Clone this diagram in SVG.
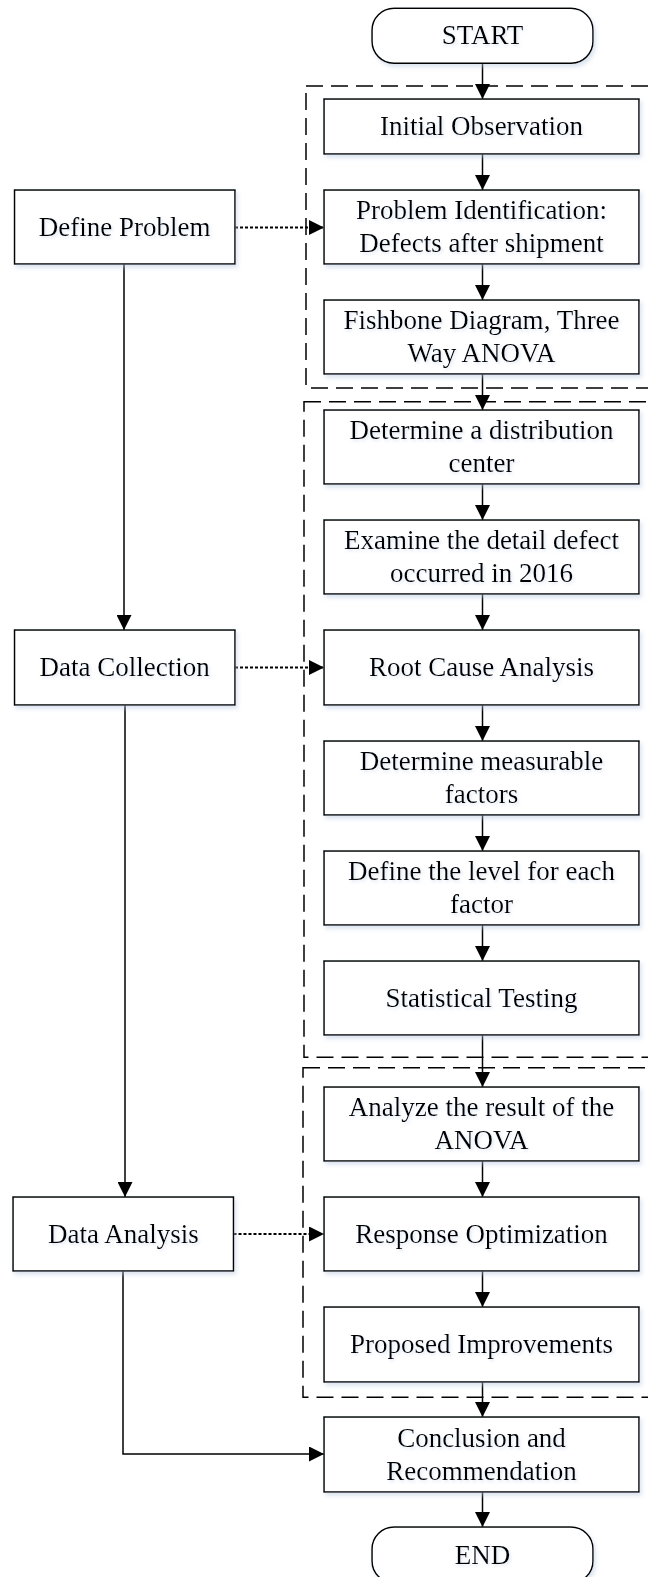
<svg xmlns="http://www.w3.org/2000/svg" width="648" height="1577" viewBox="0 0 648 1577">
<style>
.box{fill:#fff;stroke:#000;stroke-width:1.5;filter:url(#sh)}
.t{font-family:"Liberation Serif","Times New Roman",serif;font-size:27px;fill:#000;text-anchor:middle;filter:url(#tsh)}
.ln{fill:none;stroke:#000;stroke-width:1.5}
.dot{fill:none;stroke:#000;stroke-width:2;stroke-dasharray:3 2}
.grp{fill:none;stroke:#000;stroke-width:1.5;stroke-dasharray:17 8}
</style>
<defs>
<filter id="sh" x="-10%" y="-10%" width="130%" height="140%">
<feDropShadow dx="2" dy="3" stdDeviation="2" flood-color="#b8c8e0" flood-opacity="0.5"/>
</filter>
<filter id="tsh" x="-10%" y="-20%" width="130%" height="160%">
<feDropShadow dx="1.5" dy="2" stdDeviation="1.5" flood-color="#c0d0ea" flood-opacity="0.5"/>
</filter>
<marker id="ah" viewBox="0 0 15 15" refX="15" refY="7.5" markerWidth="15" markerHeight="15" markerUnits="userSpaceOnUse" orient="auto">
<path d="M0,0 L15,7.5 L0,15 z" fill="#000"/>
</marker>
</defs>

<g id="groups">
<rect class="grp" x="306" y="86" width="360" height="302"/>
<rect class="grp" x="304" y="401.7" width="362" height="655.5"/>
<rect class="grp" x="303" y="1067.7" width="363" height="329.5"/>
</g>

<g id="connectors">
<line class="ln" x1="482.5" y1="63" x2="482.5" y2="99" marker-end="url(#ah)"/>
<line class="ln" x1="482.5" y1="154" x2="482.5" y2="190" marker-end="url(#ah)"/>
<line class="ln" x1="482.5" y1="264" x2="482.5" y2="300" marker-end="url(#ah)"/>
<line class="ln" x1="482.5" y1="374" x2="482.5" y2="410" marker-end="url(#ah)"/>
<line class="ln" x1="482.5" y1="484" x2="482.5" y2="520" marker-end="url(#ah)"/>
<line class="ln" x1="482.5" y1="594" x2="482.5" y2="630" marker-end="url(#ah)"/>
<line class="ln" x1="482.5" y1="705" x2="482.5" y2="741" marker-end="url(#ah)"/>
<line class="ln" x1="482.5" y1="815" x2="482.5" y2="851" marker-end="url(#ah)"/>
<line class="ln" x1="482.5" y1="925" x2="482.5" y2="961" marker-end="url(#ah)"/>
<line class="ln" x1="482.5" y1="1035" x2="482.5" y2="1087" marker-end="url(#ah)"/>
<line class="ln" x1="482.5" y1="1161" x2="482.5" y2="1197" marker-end="url(#ah)"/>
<line class="ln" x1="482.5" y1="1271" x2="482.5" y2="1307" marker-end="url(#ah)"/>
<line class="ln" x1="482.5" y1="1382" x2="482.5" y2="1417" marker-end="url(#ah)"/>
<line class="ln" x1="482.5" y1="1492" x2="482.5" y2="1527" marker-end="url(#ah)"/>
<line class="dot" x1="235" y1="227.5" x2="324" y2="227.5" marker-end="url(#ah)"/>
<line class="dot" x1="235" y1="667.5" x2="324" y2="667.5" marker-end="url(#ah)"/>
<line class="dot" x1="233.5" y1="1234" x2="324" y2="1234" marker-end="url(#ah)"/>
<line class="ln" x1="124" y1="264" x2="124" y2="630" marker-end="url(#ah)"/>
<line class="ln" x1="125" y1="705" x2="125" y2="1197" marker-end="url(#ah)"/>
<polyline class="ln" points="123,1271 123,1454 324,1454" marker-end="url(#ah)"/>
</g>

<g id="start"><rect class="box" x="372" y="8.3" width="221" height="55" rx="22"/><text class="t" x="482.5" y="44.3">START</text></g>
<g id="initial-observation"><rect class="box" x="324" y="99" width="315" height="55"/><text class="t" x="481.5" y="135.3">Initial Observation</text></g>
<g id="problem-identification"><rect class="box" x="324" y="190" width="315" height="74"/><text class="t" x="481.5" y="219.3">Problem Identification:<tspan x="481.5" dy="33">Defects after shipment</tspan></text></g>
<g id="fishbone"><rect class="box" x="324" y="300" width="315" height="74"/><text class="t" x="481.5" y="329.3">Fishbone Diagram, Three<tspan x="481.5" dy="33">Way ANOVA</tspan></text></g>
<g id="distribution-center"><rect class="box" x="324" y="410" width="315" height="74"/><text class="t" x="481.5" y="439.3">Determine a distribution<tspan x="481.5" dy="33">center</tspan></text></g>
<g id="examine-defect"><rect class="box" x="324" y="520" width="315" height="74"/><text class="t" x="481.5" y="549.3">Examine the detail defect<tspan x="481.5" dy="33">occurred in 2016</tspan></text></g>
<g id="root-cause"><rect class="box" x="324" y="630" width="315" height="75"/><text class="t" x="481.5" y="676.3">Root Cause Analysis</text></g>
<g id="measurable-factors"><rect class="box" x="324" y="741" width="315" height="74"/><text class="t" x="481.5" y="770.3">Determine measurable<tspan x="481.5" dy="33">factors</tspan></text></g>
<g id="define-level"><rect class="box" x="324" y="851" width="315" height="74"/><text class="t" x="481.5" y="880.3">Define the level for each<tspan x="481.5" dy="33">factor</tspan></text></g>
<g id="statistical-testing"><rect class="box" x="324" y="961" width="315" height="74"/><text class="t" x="481.5" y="1006.8">Statistical Testing</text></g>
<g id="analyze-anova"><rect class="box" x="324" y="1087" width="315" height="74"/><text class="t" x="481.5" y="1116.3">Analyze the result of the<tspan x="481.5" dy="33">ANOVA</tspan></text></g>
<g id="response-optimization"><rect class="box" x="324" y="1197" width="315" height="74"/><text class="t" x="481.5" y="1242.8">Response Optimization</text></g>
<g id="proposed-improvements"><rect class="box" x="324" y="1307" width="315" height="75"/><text class="t" x="481.5" y="1353.3">Proposed Improvements</text></g>
<g id="conclusion"><rect class="box" x="324" y="1417" width="315" height="75"/><text class="t" x="481.5" y="1446.8">Conclusion and<tspan x="481.5" dy="33">Recommendation</tspan></text></g>
<g id="end"><rect class="box" x="372" y="1527" width="221" height="56" rx="22"/><text class="t" x="482.5" y="1563.8">END</text></g>

<g id="define-problem"><rect class="box" x="14.5" y="190" width="220.5" height="74"/><text class="t" x="124.7" y="236">Define Problem</text></g>
<g id="data-collection"><rect class="box" x="14.5" y="630" width="220.5" height="75"/><text class="t" x="124.7" y="676.3">Data Collection</text></g>
<g id="data-analysis"><rect class="box" x="13" y="1197" width="220.5" height="74"/><text class="t" x="123.3" y="1242.8">Data Analysis</text></g>
</svg>
